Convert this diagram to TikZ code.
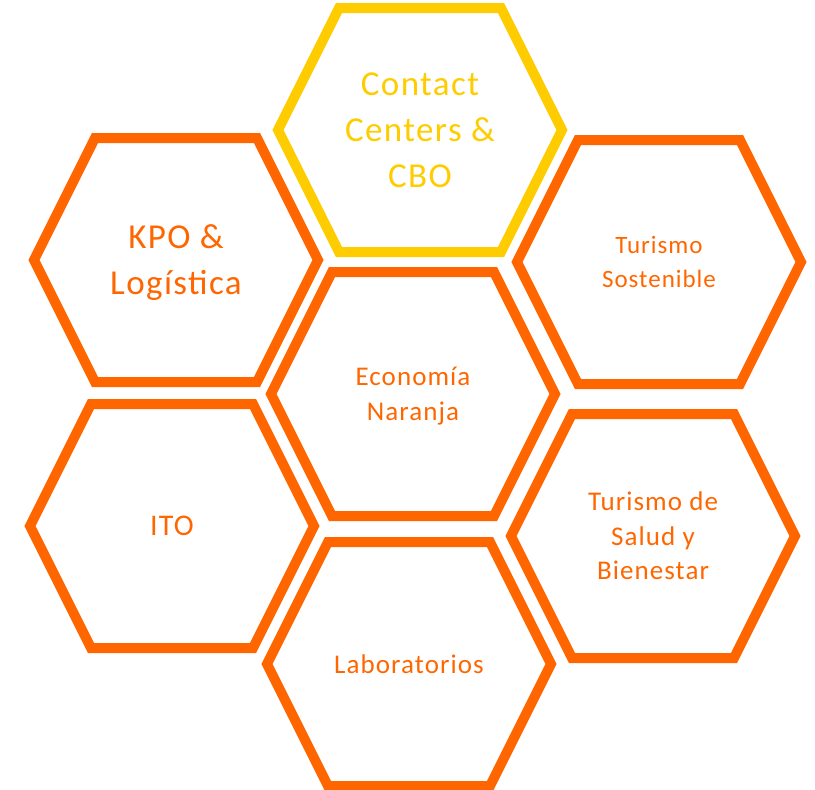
\documentclass[tikz,border=0pt]{standalone}
\usepackage{fontspec}
\setmainfont{Carlito}[LetterSpace=4]
\usepackage{tikz}
\definecolor{hexorange}{HTML}{FF6600}
\definecolor{hexyellow}{HTML}{FFCC00}
\tikzset{
  hexcell/.pic={
    \draw[line width=10pt] (-142,0) -- (-81,-122) -- (81,-122)
      -- (142,0) -- (81,122) -- (-81,122) -- cycle;
  },
  celltext/.style={
    align=center,
    text=hexorange,
    text depth=0pt,
    font=\fontsize{27}{34.5}\selectfont
  },
  bigtext/.style={
    celltext,
    font=\fontsize{35}{46}\selectfont
  }
}
\begin{document}
\begin{tikzpicture}[x=1pt,y=-1pt]
  \useasboundingbox (0,0) rectangle (815,790);
  % honeycomb
  \pic[color=hexyellow] at (420,130) {hexcell};
  \pic[color=hexorange] at (176,260) {hexcell};
  \pic[color=hexorange] at (659,262) {hexcell};
  \pic[color=hexorange] at (413,394) {hexcell};
  \pic[color=hexorange] at (172,526) {hexcell};
  \pic[color=hexorange] at (653,536) {hexcell};
  \pic[color=hexorange] at (409,664) {hexcell};
  % labels
  \node[bigtext,text=hexyellow] (contact) at (420,130) {Contact\\Centers \&\\CBO};
  \node[bigtext] (kpo) at (176,260) {KPO \&\\Logística};
  \node[celltext,font=\fontsize{25}{34}\selectfont] (sostenible) at (659,262) {Turismo\\Sostenible};
  \node[celltext] (naranja) at (413,394) {Economía\\Naranja};
  \node[celltext,font=\fontsize{30}{34}\selectfont] (ito) at (172,526) {ITO};
  \node[celltext] (salud) at (653,536) {Turismo de\\Salud y\\Bienestar};
  \node[celltext] (labs) at (409,664) {Laboratorios};
\end{tikzpicture}
\end{document}
